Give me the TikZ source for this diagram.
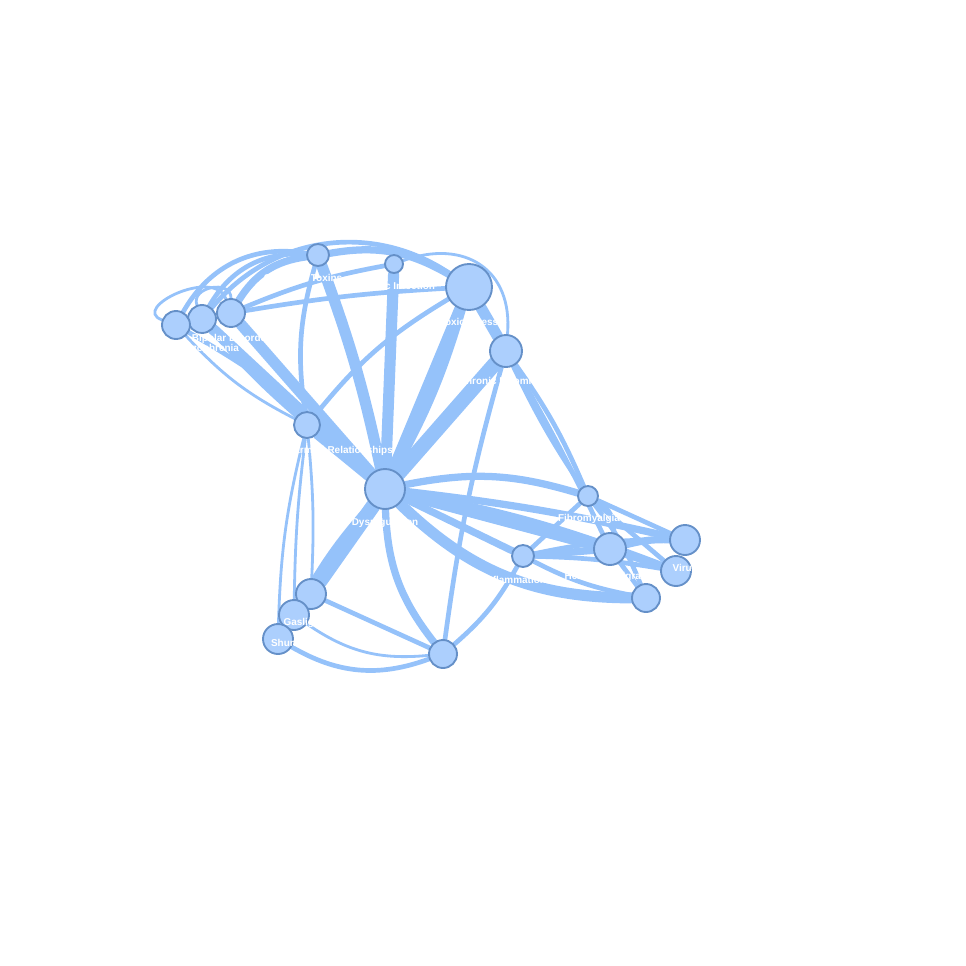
\documentclass[tikz,border=0pt]{standalone}
\usepackage{fontspec}
\setsansfont{Liberation Sans}
\pgfdeclarelayer{bg}
\pgfsetlayers{bg,main}
\definecolor{edgeblue}{HTML}{95C2FA}
\definecolor{nodefill}{HTML}{ACCFFD}
\definecolor{nodeline}{HTML}{6590C8}
\tikzset{
  nd/.style={circle,draw=nodeline,fill=nodefill,line width=1.6pt,inner sep=0pt},
  lbl/.style={text=white,font=\sffamily\bfseries\fontsize{8.5}{10}\selectfont,inner sep=0pt},
  ed/.style={draw=edgeblue,line cap=round},
  e1/.style={ed,line width=2.4pt},
  e2/.style={ed,line width=4pt},
  e3/.style={ed,line width=6.2pt},
  e4/.style={ed,line width=9.5pt},
  e5/.style={ed,line width=12.5pt},
}
\begin{document}
\begin{tikzpicture}[x=0.03cm,y=-0.03cm]
  \useasboundingbox (0,0) rectangle (966,966);
  \node[nd,minimum size=1.2cm] (dys) at (385,489) {};
  \node[nd,minimum size=1.38cm] (tox) at (469,287) {};
  \node[nd,minimum size=0.96cm] (ins) at (506,351) {};
  \node[nd,minimum size=0.54cm] (inf) at (394,264) {};
  \node[nd,minimum size=0.66cm] (chem) at (318,255) {};
  \node[nd,minimum size=0.84cm] (bip) at (231,313) {};
  \node[nd,minimum size=0.84cm] (sch) at (202,319) {};
  \node[nd,minimum size=0.84cm] (dep) at (176,325) {};
  \node[nd,minimum size=0.78cm] (rel) at (307,425) {};
  \node[nd,minimum size=0.9cm] (gas) at (311,594) {};
  \node[nd,minimum size=0.9cm] (shu) at (294,615) {};
  \node[nd,minimum size=0.9cm] (iso) at (278,639) {};
  \node[nd,minimum size=0.84cm] (bot) at (443,654) {};
  \node[nd,minimum size=0.66cm] (infl) at (523,556) {};
  \node[nd,minimum size=0.6cm] (fib) at (588,496) {};
  \node[nd,minimum size=0.96cm] (hea) at (610,549) {};
  \node[nd,minimum size=0.9cm] (vir) at (685,540) {};
  \node[nd,minimum size=0.9cm] (vir2) at (676,571) {};
  \node[nd,minimum size=0.84cm] (low) at (646,598) {};

  \begin{pgfonlayer}{bg}
    \draw[e4] (bip) -- (dys);
    \draw[e4] (sch) -- (dys);
    \draw[e2] (dep) to[bend left=8] (dys);
    \draw[e4] (rel) -- (dys);
    \draw[e4] (chem) to[bend left=4] (dys);
    \draw[e4] (inf) -- (dys);
    \draw[e4] (tox) -- (dys);
    \draw[e3] (tox) to[bend left=6] (dys);
    \draw[e5] (ins) -- (dys);
    \draw[e5] (gas) -- (dys);
    \draw[e3] (shu) to[bend left=6] (dys);
    \draw[e2] (iso) to[bend left=4] (dys);
    \draw[e3] (dys) to[bend right=18] (bot);
    \draw[e3] (dys) to[bend left=14] (fib);
    \draw[e4] (dys) -- (hea);
    \draw[e3] (dys) to[bend left=3] (vir);
    \draw[e3] (dys) to[bend left=5] (vir2);
    \draw[e4] (dys) to[bend right=22] (low);
    \draw[e3] (dys) -- (infl);
    \draw[e2] (sch) to[bend left=42] (tox);
    \draw[e3] (bip) to[bend left=25] (chem);
    \draw[e2] (sch) to[bend left=32] (chem);
    \draw[e2] (dep) to[bend left=35] (chem);
    \draw[e2] (bip) to[bend left=3] (tox);
    \draw[e2] (bip) to[bend left=6] (inf);
    \draw[e3] (chem) to[bend left=20] (tox);
    \draw[e1] (inf) to[out=20,in=85,looseness=1.3] (ins);
    \draw[e2] (chem) to[bend right=12] (rel);
    \draw[e2] (rel) to[bend left=10] (tox);
    \draw[e1] (dep) to[out=160,in=110,looseness=1.3] (bip);
    \draw[e1] (sch) to[out=110,in=90,looseness=1.4] (bip);
    \draw[e1] (dep) to[bend right=10] (rel);
    \draw[e2] (sch) to[bend right=4] (rel);
    \draw[e1] (rel) to[bend left=4] (gas);
    \draw[e1] (rel) to[bend right=3] (shu);
    \draw[e1] (rel) to[bend right=6] (iso);
    \draw[e2] (gas) -- (bot);
    \draw[e1] (shu) to[bend right=20] (bot);
    \draw[e2] (iso) to[bend right=25] (bot);
    \draw[e2] (bot) to[bend right=10] (infl);
    \draw[e2] (ins) to[bend right=4] (bot);
    \draw[e4] (tox) -- (ins);
    \draw[e2] (ins) to[bend right=4] (fib);
    \draw[e2] (ins) to[bend left=6] (fib);
    \draw[e2] (ins) to[bend left=2] (hea);
    \draw[e2] (infl) -- (fib);
    \draw[e3] (infl) -- (hea);
    \draw[e2] (infl) to[bend left=6] (vir);
    \draw[e2] (infl) to[bend left=4] (vir2);
    \draw[e2] (infl) to[bend right=8] (low);
    \draw[e2] (fib) to[bend left=35] (hea);
    \draw[e2] (fib) -- (vir);
    \draw[e2] (fib) -- (vir2);
    \draw[e2] (fib) to[bend left=8] (low);
    \draw[e3] (hea) to[bend left=8] (vir);
    \draw[e3] (hea) -- (vir2);
    \draw[e2] (hea) -- (low);
  \end{pgfonlayer}

  \node[lbl] (dysl) at (385,523) {Dysregulation};
  \node[lbl] (toxl) at (469,322) {Toxic Stress};
  \node[lbl] (insl) at (501,381) {Chronic Insomnia};
  \node[lbl] (infll) at (394,286) {Chronic Infection};
  \node[lbl] (cheml) at (303,278) {Chemical Toxins};
  \node[lbl] (bipl) at (231,339) {Bipolar Disorder};
  \node[lbl] (schl) at (205,349) {Schizophrenia};
  \node[lbl] (rell) at (340,451) {Harmful Relationships};
  \node[lbl] (gasl) at (311,623) {Gaslighting};
  \node[lbl] (shul) at (294,644) {Shunning};
  \node[lbl] (inflaml) at (515,580) {Inflammation};
  \node[lbl] (fibl) at (589,519) {Fibromyalgia};
  \node[lbl] (heal) at (610,577) {Headache/Migraine};
  \node[lbl] (virl) at (685,568) {Virus};
\end{tikzpicture}
\end{document}
